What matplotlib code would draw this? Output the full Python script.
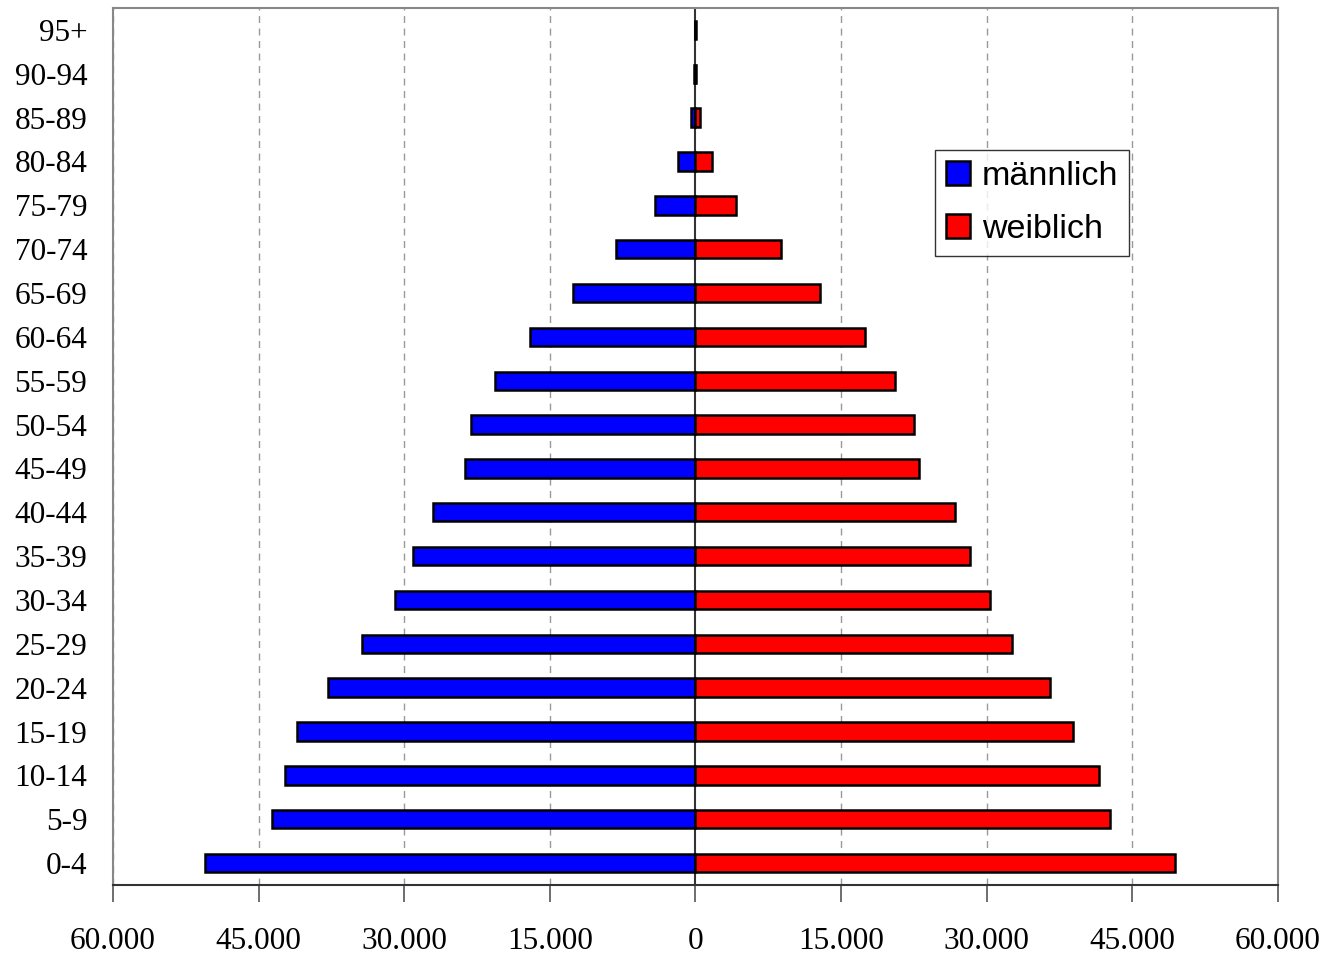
import numpy as np
import matplotlib
matplotlib.use('Agg')
import matplotlib.pyplot as plt

ages = ["0-4", "5-9", "10-14", "15-19", "20-24", "25-29", "30-34", "35-39",
        "40-44", "45-49", "50-54", "55-59", "60-64", "65-69", "70-74",
        "75-79", "80-84", "85-89", "90-94", "95+"]
male = [50500, 43650, 42300, 41000, 37900, 34300, 31000, 29100, 27000, 23700,
        23100, 20650, 17050, 12650, 8200, 4200, 1750, 450, 120, 60]
female = [49400, 42700, 41600, 38900, 36500, 32600, 30300, 28250, 26700, 23000,
          22500, 20550, 17450, 12850, 8850, 4200, 1750, 450, 60, 30]
xticks = [-60000, -45000, -30000, -15000, 0, 15000, 30000, 45000, 60000]
xlabels = ["60.000", "45.000", "30.000", "15.000", "0", "15.000", "30.000", "45.000", "60.000"]

fig = plt.figure(figsize=(13.26, 9.56), dpi=100)
ax = fig.add_axes([0.0852, 0.0743, 0.8786, 0.9173])

y = np.arange(len(ages))
ax.barh(y, -np.array(male), height=0.42, color='#0000ff', edgecolor='black', linewidth=1.8, label='männlich', zorder=3)
ax.barh(y, female, height=0.42, color='#ff0000', edgecolor='black', linewidth=1.8, label='weiblich', zorder=3)

ax.set_xlim(-60000, 60000)
ax.set_ylim(-0.5, 19.5)
ax.set_xticks(xticks)
ax.set_xticklabels(xlabels, family='Liberation Serif', fontsize=22.5)
ax.set_yticks(y)
ax.set_yticklabels(ages, family='Liberation Serif', fontsize=22.5)
ax.tick_params(axis='y', length=0, pad=18.5)
ax.tick_params(axis='x', direction='out', length=12, width=1.2, color='#555555', pad=18)

for t in xticks:
    if t != 0:
        ax.axvline(t, color='#999999', linestyle=(0, (5, 4)), linewidth=1, zorder=1)
ax.axvline(0, color='#333333', linewidth=1.5, zorder=2)

for s in ax.spines.values():
    s.set_color('#888888')
    s.set_linewidth(1.5)
ax.spines['bottom'].set_color('#333333')

leg = ax.legend(loc='upper left', bbox_to_anchor=(0.7056, 0.838), frameon=True, fancybox=False,
                prop={'family': 'Liberation Sans', 'size': 24.5}, handlelength=0.7, handleheight=0.7,
                handletextpad=0.35, labelspacing=0.65, borderpad=0.32, borderaxespad=0)
leg.get_frame().set_edgecolor('black')
leg.get_frame().set_linewidth(1.0)

fig.savefig('out.png', dpi=100)
